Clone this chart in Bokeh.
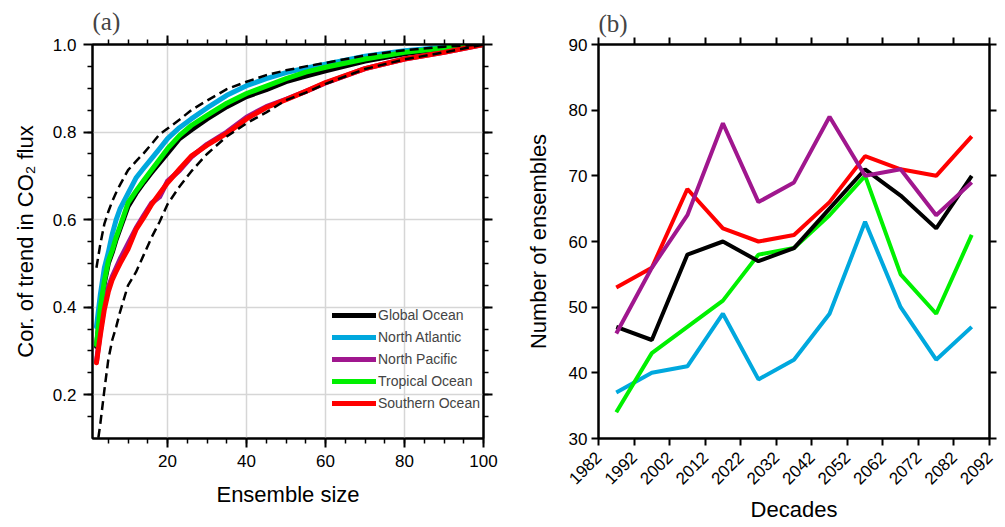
import math
from bokeh.plotting import figure
from bokeh.models import (FixedTicker, LinearAxis, Range1d, Legend, LegendItem,
                          NumeralTickFormatter)
from bokeh.layouts import row
from bokeh.embed import file_html
from bokeh.resources import INLINE

# ---------------- panel (a) data ----------------
sizes = [2, 3, 4, 5, 6, 7, 8, 10, 12, 14, 16, 18, 20, 23, 26, 30, 35, 40, 45, 50, 55, 60, 70, 80, 90, 100]
global_ocean = [0.310, 0.395, 0.455, 0.500, 0.525, 0.555, 0.580, 0.630, 0.660, 0.685, 0.708, 0.730, 0.752,
                0.785, 0.805, 0.830, 0.858, 0.881, 0.897, 0.915, 0.928, 0.940, 0.962, 0.979, 0.990, 1.000]
north_atlantic = [0.355, 0.430, 0.490, 0.525, 0.567, 0.600, 0.625, 0.660, 0.695, 0.718, 0.740, 0.762, 0.785,
                  0.810, 0.830, 0.855, 0.884, 0.906, 0.922, 0.936, 0.946, 0.955, 0.973, 0.986, 0.994, 1.000]
north_pacific = [0.275, 0.345, 0.405, 0.445, 0.470, 0.490, 0.510, 0.545, 0.580, 0.610, 0.638, 0.652, 0.688,
                 0.712, 0.743, 0.772, 0.800, 0.834, 0.858, 0.875, 0.893, 0.912, 0.945, 0.967, 0.982, 1.000]
tropical_ocean = [0.314, 0.400, 0.460, 0.505, 0.530, 0.560, 0.585, 0.638, 0.665, 0.690, 0.714, 0.738, 0.762,
                  0.792, 0.815, 0.838, 0.866, 0.888, 0.905, 0.922, 0.937, 0.948, 0.967, 0.982, 0.992, 1.000]
southern_ocean = [0.273, 0.337, 0.395, 0.435, 0.463, 0.482, 0.500, 0.533, 0.577, 0.605, 0.635, 0.660, 0.684,
                  0.715, 0.745, 0.770, 0.797, 0.830, 0.856, 0.874, 0.893, 0.913, 0.945, 0.967, 0.982, 1.000]
upper_bound = [0.490, 0.545, 0.590, 0.618, 0.642, 0.662, 0.680, 0.713, 0.733, 0.752, 0.773, 0.795, 0.808,
               0.828, 0.850, 0.872, 0.898, 0.915, 0.930, 0.941, 0.950, 0.958, 0.975, 0.987, 0.995, 1.000]
lower_bound = [0.070, 0.135, 0.210, 0.280, 0.325, 0.355, 0.390, 0.450, 0.480, 0.520, 0.560, 0.595, 0.635,
               0.675, 0.710, 0.750, 0.790, 0.820, 0.845, 0.873, 0.890, 0.910, 0.944, 0.966, 0.982, 1.000]
a_xticks = [20, 40, 60, 80, 100]
a_yticks = [0.2, 0.4, 0.6, 0.8, 1.0]

# ---------------- panel (b) data ----------------
decades = [1987, 1997, 2007, 2017, 2027, 2037, 2047, 2057, 2067, 2077, 2087]
n_global = [47, 45, 58, 60, 57, 59, 65, 71, 67, 62, 70]
n_natl = [37, 40, 41, 49, 39, 42, 49, 63, 50, 42, 47]
n_npac = [46, 56, 64, 78, 66, 69, 79, 70, 71, 64, 69]
n_trop = [34, 43, 47, 51, 58, 59, 64, 70, 55, 49, 61]
n_south = [53, 56, 68, 62, 60, 61, 66, 73, 71, 70, 76]
b_xticks = [1982, 1992, 2002, 2012, 2022, 2032, 2042, 2052, 2062, 2072, 2082, 2092]
b_yticks = [30, 40, 50, 60, 70, 80, 90]

labels = ["Global Ocean", "North Atlantic", "North Pacific", "Tropical Ocean", "Southern Ocean"]

BLACK = "#000000"
BLUE = "#00a8de"
PURPLE = "#a0178e"
GREEN = "#00f000"
RED = "#ff0000"
FONT = "Liberation Sans"


def style_axis(ax, tick_out, minor_out, show_labels=True):
    ax.axis_line_width = 2
    ax.axis_line_color = "black"
    ax.major_tick_line_width = 2
    ax.minor_tick_line_width = 1.5
    ax.major_tick_out = tick_out
    ax.major_tick_in = 0
    ax.minor_tick_out = minor_out
    ax.minor_tick_in = 0
    ax.major_label_text_font = FONT
    ax.major_label_text_color = "black"
    ax.axis_label_text_font = FONT
    ax.axis_label_text_font_style = "normal"
    ax.axis_label_text_font_size = "22px"
    ax.axis_label_text_color = "black"
    if show_labels:
        ax.major_label_text_font_size = "17px"
    else:
        # mirrored tick axis: no labels drawn at all
        ax.major_label_text_color = None
        ax.major_label_text_font_size = "1px"
        ax.major_label_standoff = 0


def style_title(p, text):
    p.title.text = text
    p.title.text_font = "Liberation Serif"
    p.title.text_font_style = "normal"
    p.title.text_font_size = "25px"
    p.title.align = "left"
    p.title.offset = 0
    p.title.standoff = 2


# ================= panel (a) =================
pa = figure(width=500, height=524, output_backend="svg", toolbar_location=None,
            x_range=Range1d(1, 100), y_range=Range1d(0.1, 1.0),
            min_border_left=92, min_border_right=17, min_border_top=44, min_border_bottom=84)
pa.outline_line_color = "black"
pa.outline_line_width = 2
style_title(pa, "(a)")

xt_a = FixedTicker(ticks=a_xticks, minor_ticks=[v for v in range(5, 101, 5)])
yt_a = FixedTicker(ticks=a_yticks, minor_ticks=[round(0.15 + 0.05 * i, 2) for i in range(17)])
pa.xaxis.ticker = xt_a
pa.yaxis.ticker = yt_a
pa.yaxis.formatter = NumeralTickFormatter(format="0.0")
style_axis(pa.xaxis[0], 9, 5)
style_axis(pa.yaxis[0], 9, 5)
pa.xaxis.major_label_standoff = 7
pa.yaxis.major_label_standoff = 7
pa.xaxis.axis_label = "Ensemble size"
pa.yaxis.axis_label = "Cor. of trend in CO\u2082 flux"
pa.xaxis.axis_label_standoff = 12
pa.yaxis.axis_label_standoff = 12

top_a = LinearAxis(ticker=xt_a)
style_axis(top_a, 9, 5, show_labels=False)
pa.add_layout(top_a, "above")
right_a = LinearAxis(ticker=yt_a)
style_axis(right_a, 9, 5, show_labels=False)
pa.add_layout(right_a, "right")

pa.xgrid.ticker = xt_a
pa.ygrid.ticker = yt_a
pa.xgrid.grid_line_color = "#d6d6d6"
pa.ygrid.grid_line_color = "#d6d6d6"
pa.xgrid.grid_line_width = 1.5
pa.ygrid.grid_line_width = 1.5

ra = []
for ys, c in zip([global_ocean, north_atlantic, north_pacific, tropical_ocean, southern_ocean],
                 [BLACK, BLUE, PURPLE, GREEN, RED]):
    ra.append(pa.line(sizes, ys, line_color=c, line_width=5, line_join="round", line_cap="round"))
pa.line(sizes, upper_bound, line_color="black", line_width=2.5, line_dash="9 5")
pa.line(sizes, lower_bound, line_color="black", line_width=2.5, line_dash="9 5")

legend = Legend(items=[LegendItem(label=l, renderers=[r]) for l, r in zip(labels, ra)],
                location=(240, 25), padding=0, margin=0, spacing=2,
                glyph_width=44, glyph_height=20, label_height=20, label_standoff=2,
                label_text_font=FONT, label_text_font_size="14px",
                background_fill_alpha=0, border_line_alpha=0)
pa.add_layout(legend)

# ================= panel (b) =================
pb = figure(width=505, height=524, output_backend="svg", toolbar_location=None,
            x_range=Range1d(1982, 2092), y_range=Range1d(30, 90),
            min_border_left=98, min_border_right=16, min_border_top=44, min_border_bottom=84)
pb.outline_line_color = "black"
pb.outline_line_width = 2
style_title(pb, "(b)")
pb.grid.visible = False

xt_b = FixedTicker(ticks=b_xticks, minor_ticks=[])
yt_b = FixedTicker(ticks=b_yticks, minor_ticks=[])
pb.xaxis.ticker = xt_b
pb.yaxis.ticker = yt_b
style_axis(pb.xaxis[0], 7, 0)
style_axis(pb.yaxis[0], 7, 0)
pb.xaxis.major_label_orientation = math.pi / 4
pb.xaxis.major_label_standoff = 9
pb.yaxis.major_label_standoff = 4
pb.xaxis.axis_label = "Decades"
pb.yaxis.axis_label = "Number of ensembles"
pb.xaxis.axis_label_standoff = 4
pb.yaxis.axis_label_standoff = 15

top_b = LinearAxis(ticker=xt_b)
style_axis(top_b, 7, 0, show_labels=False)
pb.add_layout(top_b, "above")
right_b = LinearAxis(ticker=yt_b)
style_axis(right_b, 7, 0, show_labels=False)
pb.add_layout(right_b, "right")

for ys, c in zip([n_natl, n_trop, n_south, n_global, n_npac], [BLUE, GREEN, RED, BLACK, PURPLE]):
    pb.line(decades, ys, line_color=c, line_width=4)

layout = row(pa, pb)
open("out.html", "w").write(file_html(layout, INLINE))
